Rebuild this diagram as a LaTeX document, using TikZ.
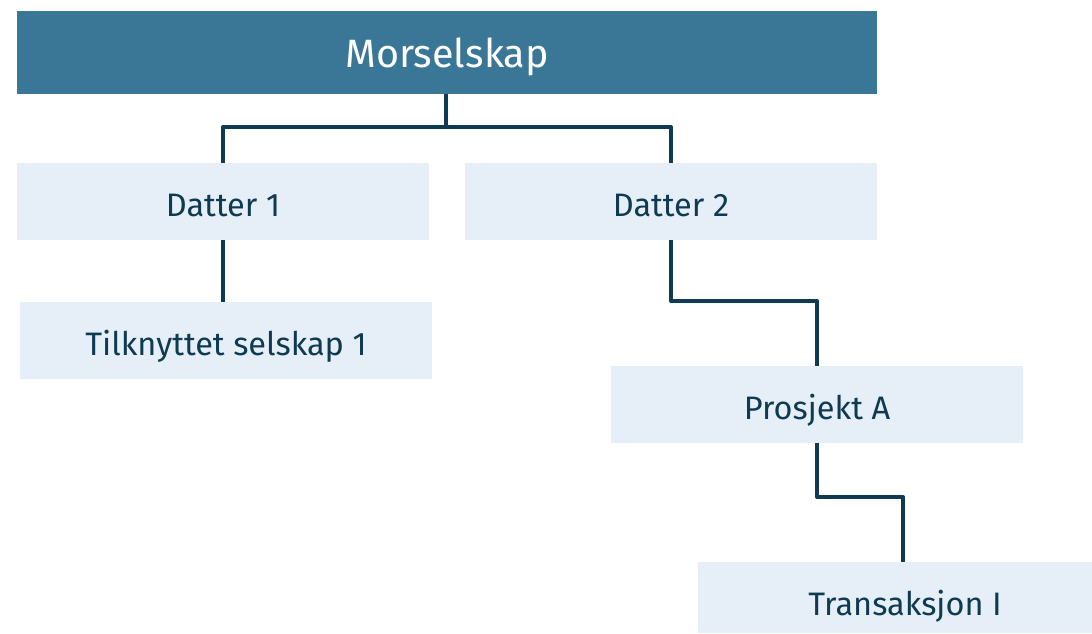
\documentclass[tikz,border=0pt]{standalone}
\usepackage{fontspec}
\setmainfont{Fira Sans}
\usepackage{tikz}
\usetikzlibrary{positioning}
\definecolor{bleufonce}{HTML}{3A7797}
\definecolor{bleuclair}{HTML}{E6EFF7}
\definecolor{encre}{HTML}{0E3A52}
\tikzstyle{boite} = [fill=bleuclair,text=encre,inner sep=0pt,minimum width=8.24cm,minimum height=1.54cm,text height=0.8cm,text depth=0.2cm,font=\fontsize{18.5}{22}\selectfont]
\tikzstyle{lien} = [draw=encre,line width=2.3pt,line join=round]

\begin{document}
\begin{tikzpicture}[x=0.02cm,y=-0.02cm]
	\useasboundingbox (0,0) rectangle (1092,633);

	\node[fill=bleufonce,text=white,inner sep=0pt,minimum width=17.2cm,minimum height=1.66cm,text height=0.8cm,text depth=0.2cm,font=\fontsize{22.5}{26}\selectfont] (M) at (447,52.5) {Morselskap};

	\node[boite] (D1) at (223,201.5) {Datter 1};
	\node[boite] (D2) at (671,201.5) {Datter 2};
	\node[boite] (T1) at (226,340.5) {Tilknyttet selskap 1};
	\node[boite] (PA) at (817,404.5) {Prosjekt A};
	\node[boite,minimum width=7.88cm,minimum height=1.42cm,text height=0.9cm] (TI) at (895,597.5) {\hspace{0.4cm}Transaksjon I};

	\coordinate (S) at (446,127);
	\coordinate (K1) at (744,301);
	\coordinate (K2) at (860,497);

	\draw[lien] (M.south -| S) -- (S);
	\draw[lien] (D1.north) |- (S) -| (D2.north);
	\draw[lien] (D1.south) -- (D1.south |- T1.north);
	\draw[lien] (D2.south) |- (K1) -| (PA.north);
	\draw[lien] (PA.south) |- (K2) -| ([xshift=0.16cm]TI.north);

\end{tikzpicture}
\end{document}
